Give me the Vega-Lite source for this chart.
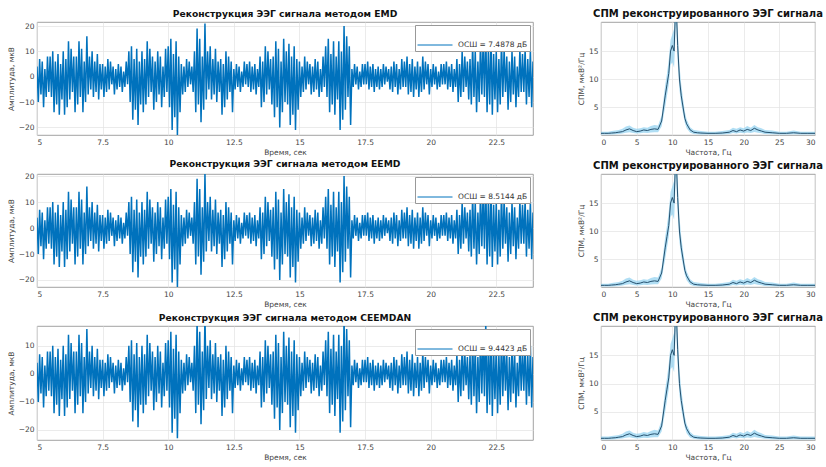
{
"$schema": "https://vega.github.io/schema/vega-lite/v6.json",
"background": "white",
"padding": {"left": 6, "top": 8, "right": 0, "bottom": 0},
"config": {
  "font": "DejaVu Sans",
  "view": {"stroke": "#8c8c8c", "strokeWidth": 0.8},
  "axis": {"labelFontSize": 7.5, "labelColor": "#444", "titleFontSize": 7.5, "titleFontWeight": "normal", "titleColor": "#444", "gridColor": "#e3e3e3", "gridWidth": 0.7, "domain": false, "ticks": false, "labelPadding": 3, "titlePadding": 3},
  "title": {"fontSize": 9.2, "fontWeight": "bold", "offset": 3, "color": "#111"},
  "legend": {"orient": "top-right", "offset": 3, "padding": 2, "strokeColor": "#999", "fillColor": "white", "symbolType": "stroke", "symbolSize": 1225, "symbolStrokeWidth": 1, "labelFontSize": 7.5, "labelColor": "#333", "labelOffset": 5, "cornerRadius": 0}
},
"datasets": {
"eeg": [
{"t":5,"v":4},{"t":5.05,"v":-10},{"t":5.1,"v":7},{"t":5.15,"v":-7},{"t":5.2,"v":6},{"t":5.25,"v":-12},{"t":5.3,"v":3},{"t":5.35,"v":-8},{"t":5.4,"v":8},{"t":5.45,"v":-6},
{"t":5.5,"v":8},{"t":5.55,"v":-8},{"t":5.6,"v":10},{"t":5.65,"v":-14},{"t":5.7,"v":6},{"t":5.75,"v":-11},{"t":5.8,"v":9},{"t":5.85,"v":-15},{"t":5.9,"v":5},{"t":5.95,"v":-9},
{"t":6,"v":10},{"t":6.05,"v":-15},{"t":6.1,"v":7},{"t":6.15,"v":-12},{"t":6.2,"v":14},{"t":6.25,"v":-9},{"t":6.3,"v":11},{"t":6.35,"v":-6},{"t":6.4,"v":8},{"t":6.45,"v":-14},
{"t":6.5,"v":8},{"t":6.55,"v":-11},{"t":6.6,"v":14},{"t":6.65,"v":-8},{"t":6.7,"v":11},{"t":6.75,"v":-14},{"t":6.8,"v":6},{"t":6.85,"v":-10},{"t":6.9,"v":16},{"t":6.95,"v":-7},
{"t":7,"v":8},{"t":7.05,"v":-5},{"t":7.1,"v":10},{"t":7.15,"v":-8},{"t":7.2,"v":6},{"t":7.25,"v":-6},{"t":7.3,"v":9},{"t":7.35,"v":-9},{"t":7.4,"v":5},{"t":7.45,"v":-5},
{"t":7.5,"v":5},{"t":7.55,"v":-8},{"t":7.6,"v":4},{"t":7.65,"v":-6},{"t":7.7,"v":7},{"t":7.75,"v":-5},{"t":7.8,"v":6},{"t":7.85,"v":-3},{"t":7.9,"v":4},{"t":7.95,"v":-7},
{"t":8,"v":3},{"t":8.05,"v":-5},{"t":8.1,"v":5},{"t":8.15,"v":-4},{"t":8.2,"v":4},{"t":8.25,"v":-6},{"t":8.3,"v":2},{"t":8.35,"v":-4},{"t":8.4,"v":6},{"t":8.45,"v":-3},
{"t":8.5,"v":10},{"t":8.55,"v":-10},{"t":8.6,"v":12},{"t":8.65,"v":-17},{"t":8.7,"v":7},{"t":8.75,"v":-13},{"t":8.8,"v":11},{"t":8.85,"v":-19},{"t":8.9,"v":6},{"t":8.95,"v":-11},
{"t":9,"v":10},{"t":9.05,"v":-14},{"t":9.1,"v":7},{"t":9.15,"v":-11},{"t":9.2,"v":14},{"t":9.25,"v":-8},{"t":9.3,"v":11},{"t":9.35,"v":-6},{"t":9.4,"v":8},{"t":9.45,"v":-13},
{"t":9.5,"v":6},{"t":9.55,"v":-10},{"t":9.6,"v":10},{"t":9.65,"v":-7},{"t":9.7,"v":8},{"t":9.75,"v":-12},{"t":9.8,"v":4},{"t":9.85,"v":-8},{"t":9.9,"v":11},{"t":9.95,"v":-6},
{"t":10,"v":12},{"t":10.05,"v":-12},{"t":10.1,"v":15},{"t":10.15,"v":-21},{"t":10.2,"v":9},{"t":10.25,"v":-16},{"t":10.3,"v":14},{"t":10.35,"v":-23},{"t":10.4,"v":8},{"t":10.45,"v":-14},
{"t":10.5,"v":5},{"t":10.55,"v":-7},{"t":10.6,"v":4},{"t":10.65,"v":-6},{"t":10.7,"v":7},{"t":10.75,"v":-4},{"t":10.8,"v":6},{"t":10.85,"v":-3},{"t":10.9,"v":4},{"t":10.95,"v":-6},
{"t":11,"v":10},{"t":11.05,"v":-14},{"t":11.1,"v":19},{"t":11.15,"v":-11},{"t":11.2,"v":15},{"t":11.25,"v":-18},{"t":11.3,"v":8},{"t":11.35,"v":-13},{"t":11.4,"v":21},{"t":11.45,"v":-9},
{"t":11.5,"v":10},{"t":11.55,"v":-5},{"t":11.6,"v":12},{"t":11.65,"v":-9},{"t":11.7,"v":7},{"t":11.75,"v":-7},{"t":11.8,"v":11},{"t":11.85,"v":-10},{"t":11.9,"v":6},{"t":11.95,"v":-6},
{"t":12,"v":7},{"t":12.05,"v":-15},{"t":12.1,"v":5},{"t":12.15,"v":-12},{"t":12.2,"v":10},{"t":12.25,"v":-9},{"t":12.3,"v":8},{"t":12.35,"v":-6},{"t":12.4,"v":6},{"t":12.45,"v":-14},
{"t":12.5,"v":3},{"t":12.55,"v":-5},{"t":12.6,"v":5},{"t":12.65,"v":-4},{"t":12.7,"v":4},{"t":12.75,"v":-6},{"t":12.8,"v":2},{"t":12.85,"v":-4},{"t":12.9,"v":6},{"t":12.95,"v":-3},
{"t":13,"v":5},{"t":13.05,"v":-4},{"t":13.1,"v":6},{"t":13.15,"v":-6},{"t":13.2,"v":4},{"t":13.25,"v":-5},{"t":13.3,"v":5},{"t":13.35,"v":-7},{"t":13.4,"v":3},{"t":13.45,"v":-4},
{"t":13.5,"v":8},{"t":13.55,"v":-12},{"t":13.6,"v":6},{"t":13.65,"v":-10},{"t":13.7,"v":12},{"t":13.75,"v":-7},{"t":13.8,"v":10},{"t":13.85,"v":-5},{"t":13.9,"v":7},{"t":13.95,"v":-11},
{"t":14,"v":8},{"t":14.05,"v":-16},{"t":14.1,"v":14},{"t":14.15,"v":-12},{"t":14.2,"v":11},{"t":14.25,"v":-20},{"t":14.3,"v":6},{"t":14.35,"v":-14},{"t":14.4,"v":15},{"t":14.45,"v":-10},
{"t":14.5,"v":10},{"t":14.55,"v":-11},{"t":14.6,"v":13},{"t":14.65,"v":-19},{"t":14.7,"v":8},{"t":14.75,"v":-15},{"t":14.8,"v":12},{"t":14.85,"v":-21},{"t":14.9,"v":7},{"t":14.95,"v":-13},
{"t":15,"v":6},{"t":15.05,"v":-8},{"t":15.1,"v":4},{"t":15.15,"v":-6},{"t":15.2,"v":8},{"t":15.25,"v":-5},{"t":15.3,"v":6},{"t":15.35,"v":-3},{"t":15.4,"v":5},{"t":15.45,"v":-7},
{"t":15.5,"v":4},{"t":15.55,"v":-6},{"t":15.6,"v":7},{"t":15.65,"v":-5},{"t":15.7,"v":6},{"t":15.75,"v":-8},{"t":15.8,"v":3},{"t":15.85,"v":-6},{"t":15.9,"v":8},{"t":15.95,"v":-4},
{"t":16,"v":12},{"t":16.05,"v":-8},{"t":16.1,"v":15},{"t":16.15,"v":-14},{"t":16.2,"v":9},{"t":16.25,"v":-11},{"t":16.3,"v":14},{"t":16.35,"v":-15},{"t":16.4,"v":8},{"t":16.45,"v":-9},
{"t":16.5,"v":14},{"t":16.55,"v":-21},{"t":16.6,"v":10},{"t":16.65,"v":-17},{"t":16.7,"v":20},{"t":16.75,"v":-13},{"t":16.8,"v":16},{"t":16.85,"v":-8},{"t":16.9,"v":12},{"t":16.95,"v":-19},
{"t":17,"v":3},{"t":17.05,"v":-4},{"t":17.1,"v":5},{"t":17.15,"v":-3},{"t":17.2,"v":4},{"t":17.25,"v":-5},{"t":17.3,"v":2},{"t":17.35,"v":-4},{"t":17.4,"v":5},{"t":17.45,"v":-3},
{"t":17.5,"v":5},{"t":17.55,"v":-3},{"t":17.6,"v":6},{"t":17.65,"v":-5},{"t":17.7,"v":4},{"t":17.75,"v":-4},{"t":17.8,"v":5},{"t":17.85,"v":-6},{"t":17.9,"v":3},{"t":17.95,"v":-4},
{"t":18,"v":4},{"t":18.05,"v":-5},{"t":18.1,"v":3},{"t":18.15,"v":-4},{"t":18.2,"v":5},{"t":18.25,"v":-3},{"t":18.3,"v":4},{"t":18.35,"v":-2},{"t":18.4,"v":3},{"t":18.45,"v":-5},
{"t":18.5,"v":4},{"t":18.55,"v":-6},{"t":18.6,"v":6},{"t":18.65,"v":-4},{"t":18.7,"v":5},{"t":18.75,"v":-7},{"t":18.8,"v":3},{"t":18.85,"v":-5},{"t":18.9,"v":7},{"t":18.95,"v":-4},
{"t":19,"v":6},{"t":19.05,"v":-4},{"t":19.1,"v":8},{"t":19.15,"v":-7},{"t":19.2,"v":5},{"t":19.25,"v":-6},{"t":19.3,"v":7},{"t":19.35,"v":-8},{"t":19.4,"v":4},{"t":19.45,"v":-5},
{"t":19.5,"v":6},{"t":19.55,"v":-8},{"t":19.6,"v":4},{"t":19.65,"v":-6},{"t":19.7,"v":8},{"t":19.75,"v":-5},{"t":19.8,"v":6},{"t":19.85,"v":-3},{"t":19.9,"v":5},{"t":19.95,"v":-7},
{"t":20,"v":3},{"t":20.05,"v":-4},{"t":20.1,"v":5},{"t":20.15,"v":-3},{"t":20.2,"v":4},{"t":20.25,"v":-5},{"t":20.3,"v":2},{"t":20.35,"v":-4},{"t":20.4,"v":5},{"t":20.45,"v":-3},
{"t":20.5,"v":5},{"t":20.55,"v":-3},{"t":20.6,"v":6},{"t":20.65,"v":-5},{"t":20.7,"v":4},{"t":20.75,"v":-4},{"t":20.8,"v":5},{"t":20.85,"v":-6},{"t":20.9,"v":3},{"t":20.95,"v":-4},
{"t":21,"v":7},{"t":21.05,"v":-10},{"t":21.1,"v":5},{"t":21.15,"v":-8},{"t":21.2,"v":10},{"t":21.25,"v":-6},{"t":21.3,"v":8},{"t":21.35,"v":-4},{"t":21.4,"v":6},{"t":21.45,"v":-9},
{"t":21.5,"v":7},{"t":21.55,"v":-11},{"t":21.6,"v":13},{"t":21.65,"v":-8},{"t":21.7,"v":10},{"t":21.75,"v":-14},{"t":21.8,"v":6},{"t":21.85,"v":-10},{"t":21.9,"v":14},{"t":21.95,"v":-7},
{"t":22,"v":14},{"t":22.05,"v":-8},{"t":22.1,"v":18},{"t":22.15,"v":-14},{"t":22.2,"v":11},{"t":22.25,"v":-11},{"t":22.3,"v":16},{"t":22.35,"v":-15},{"t":22.4,"v":9},{"t":22.45,"v":-9},
{"t":22.5,"v":10},{"t":22.55,"v":-14},{"t":22.6,"v":7},{"t":22.65,"v":-11},{"t":22.7,"v":14},{"t":22.75,"v":-8},{"t":22.8,"v":11},{"t":22.85,"v":-6},{"t":22.9,"v":8},{"t":22.95,"v":-13},
{"t":23,"v":6},{"t":23.05,"v":-10},{"t":23.1,"v":10},{"t":23.15,"v":-7},{"t":23.2,"v":8},{"t":23.25,"v":-12},{"t":23.3,"v":4},{"t":23.35,"v":-8},{"t":23.4,"v":11},{"t":23.45,"v":-6},
{"t":23.5,"v":9},{"t":23.55,"v":-6},{"t":23.6,"v":11},{"t":23.65,"v":-11},{"t":23.7,"v":7},{"t":23.75,"v":-8},{"t":23.8,"v":10},{"t":23.85,"v":-12},{"t":23.9,"v":6}
],
"psd": [
{"f":0,"p":0.3,"lo":0.1,"hi":0.6},{"f":0.5,"p":0.3,"lo":0.1,"hi":0.6},{"f":1,"p":0.3,"lo":0.1,"hi":0.6},{"f":1.5,"p":0.35,"lo":0.1,"hi":0.7},{"f":2,"p":0.4,"lo":0.15,"hi":0.8},{"f":2.5,"p":0.5,"lo":0.2,"hi":0.9},{"f":3,"p":0.6,"lo":0.25,"hi":1.1},{"f":3.5,"p":0.9,"lo":0.4,"hi":1.5},{"f":4,"p":1.1,"lo":0.5,"hi":1.7},{"f":4.5,"p":0.8,"lo":0.35,"hi":1.3},
{"f":5,"p":0.6,"lo":0.25,"hi":1.1},{"f":5.5,"p":0.7,"lo":0.3,"hi":1.2},{"f":6,"p":0.9,"lo":0.4,"hi":1.4},{"f":6.5,"p":0.8,"lo":0.35,"hi":1.3},{"f":7,"p":1.0,"lo":0.45,"hi":1.6},{"f":7.5,"p":1.1,"lo":0.5,"hi":1.8},{"f":8,"p":1.0,"lo":0.5,"hi":1.7},{"f":8.5,"p":2.5,"lo":1.5,"hi":3.5},
{"f":9,"p":7,"lo":5,"hi":9},{"f":9.25,"p":9,"lo":7,"hi":11},{"f":9.5,"p":11,"lo":9,"hi":13.5},{"f":9.75,"p":15,"lo":12.5,"hi":17},{"f":10,"p":16,"lo":13,"hi":18},{"f":10.25,"p":15,"lo":12,"hi":19},{"f":10.5,"p":25,"lo":20,"hi":25},{"f":10.75,"p":16,"lo":13,"hi":19},{"f":11,"p":10,"lo":8,"hi":12.5},{"f":11.25,"p":7,"lo":5.5,"hi":9},{"f":11.5,"p":5,"lo":3.8,"hi":6.5},{"f":11.75,"p":3,"lo":2.2,"hi":4.2},{"f":12,"p":2,"lo":1.2,"hi":2.8},
{"f":12.5,"p":0.9,"lo":0.4,"hi":1.4},{"f":13,"p":0.5,"lo":0.2,"hi":0.9},{"f":13.5,"p":0.4,"lo":0.15,"hi":0.8},{"f":14,"p":0.35,"lo":0.1,"hi":0.7},{"f":15,"p":0.3,"lo":0.1,"hi":0.6},{"f":16,"p":0.3,"lo":0.1,"hi":0.6},{"f":17,"p":0.35,"lo":0.1,"hi":0.7},{"f":18,"p":0.5,"lo":0.2,"hi":0.9},{"f":18.5,"p":0.8,"lo":0.35,"hi":1.3},
{"f":19,"p":0.6,"lo":0.25,"hi":1.1},{"f":19.5,"p":0.9,"lo":0.4,"hi":1.4},{"f":20,"p":0.7,"lo":0.3,"hi":1.2},{"f":20.5,"p":1.0,"lo":0.45,"hi":1.6},{"f":21,"p":0.8,"lo":0.35,"hi":1.3},{"f":21.5,"p":1.2,"lo":0.55,"hi":1.8},{"f":22,"p":0.9,"lo":0.4,"hi":1.4},{"f":22.5,"p":0.7,"lo":0.3,"hi":1.2},{"f":23,"p":0.5,"lo":0.2,"hi":0.9},
{"f":24,"p":0.4,"lo":0.15,"hi":0.8},{"f":25,"p":0.3,"lo":0.1,"hi":0.6},{"f":26,"p":0.3,"lo":0.1,"hi":0.6},{"f":27,"p":0.4,"lo":0.15,"hi":0.8},{"f":28,"p":0.3,"lo":0.1,"hi":0.6},{"f":29,"p":0.3,"lo":0.1,"hi":0.6},{"f":30,"p":0.3,"lo":0.1,"hi":0.6}
]
},
"columns": 2,
"bounds": "flush",
"spacing": {"row": 39, "column": 68},
"resolve": {"scale": {"color": "independent"}, "legend": {"color": "independent"}},
"concat": [
{
 "width": 496, "height": 113,
 "title": "Реконструкция ЭЭГ сигнала методом EMD",
 "data": {"name": "eeg"},
 "mark": {"type": "line", "strokeWidth": 1.5, "clip": true},
 "encoding": {
  "x": {"field": "t", "type": "quantitative", "scale": {"domain": [5, 23.9], "nice": false, "zero": false}, "axis": {"title": "Время, сек", "values": [5,7.5,10,12.5,15,17.5,20,22.5], "format": ".3~g"}},
  "y": {"field": "v", "type": "quantitative", "scale": {"domain": [-23, 21.6], "nice": false}, "axis": {"title": "Амплитуда, мкВ", "values": [-20,-10,0,10,20]}},
  "color": {"datum": "ОСШ = 7.4878 дБ", "scale": {"range": ["#0072BD"]}, "legend": {"title": null}}
 }
},
{
 "width": 214, "height": 113,
 "title": {"text": "СПМ реконструированного ЭЭГ сигнала", "fontSize": 10},
 "data": {"name": "psd"},
 "encoding": {"x": {"field": "f", "type": "quantitative", "scale": {"domain": [0, 30], "nice": false}, "axis": {"title": "Частота, Гц", "values": [0,5,10,15,20,25,30]}}},
 "layer": [
  {"mark": {"type": "area", "color": "#8fd0f0", "opacity": 0.7, "clip": true}, "encoding": {"y": {"field": "lo", "type": "quantitative", "scale": {"domain": [0, 20.2], "nice": false}, "axis": {"title": "СПМ, мкВ²/Гц", "values": [5,10,15]}}, "y2": {"field": "hi"}}},
  {"mark": {"type": "line", "color": "#24506e", "strokeWidth": 1, "clip": true}, "encoding": {"y": {"field": "p", "type": "quantitative"}}}
 ]
},
{
 "width": 496, "height": 113,
 "title": "Реконструкция ЭЭГ сигнала методом EEMD",
 "data": {"name": "eeg"},
 "mark": {"type": "line", "strokeWidth": 1.5, "clip": true},
 "encoding": {
  "x": {"field": "t", "type": "quantitative", "scale": {"domain": [5, 23.9], "nice": false, "zero": false}, "axis": {"title": "Время, сек", "values": [5,7.5,10,12.5,15,17.5,20,22.5], "format": ".3~g"}},
  "y": {"field": "v", "type": "quantitative", "scale": {"domain": [-22.7, 20.8], "nice": false}, "axis": {"title": "Амплитуда, мкВ", "values": [-20,-10,0,10,20]}},
  "color": {"datum": "ОСШ = 8.5144 дБ", "scale": {"range": ["#0072BD"]}, "legend": {"title": null}}
 }
},
{
 "width": 214, "height": 113,
 "title": {"text": "СПМ реконструированного ЭЭГ сигнала", "fontSize": 10},
 "data": {"name": "psd"},
 "encoding": {"x": {"field": "f", "type": "quantitative", "scale": {"domain": [0, 30], "nice": false}, "axis": {"title": "Частота, Гц", "values": [0,5,10,15,20,25,30]}}},
 "layer": [
  {"mark": {"type": "area", "color": "#8fd0f0", "opacity": 0.7, "clip": true}, "encoding": {"y": {"field": "lo", "type": "quantitative", "scale": {"domain": [0, 20.2], "nice": false}, "axis": {"title": "СПМ, мкВ²/Гц", "values": [5,10,15]}}, "y2": {"field": "hi"}}},
  {"mark": {"type": "line", "color": "#24506e", "strokeWidth": 1, "clip": true}, "encoding": {"y": {"field": "p", "type": "quantitative"}}}
 ]
},
{
 "width": 496, "height": 114,
 "title": "Реконструкция ЭЭГ сигнала методом CEEMDAN",
 "data": {"name": "eeg"},
 "mark": {"type": "line", "strokeWidth": 1.5, "clip": true},
 "encoding": {
  "x": {"field": "t", "type": "quantitative", "scale": {"domain": [5, 23.9], "nice": false, "zero": false}, "axis": {"title": "Время, сек", "values": [5,7.5,10,12.5,15,17.5,20,22.5], "format": ".3~g"}},
  "y": {"field": "v", "type": "quantitative", "scale": {"domain": [-23.6, 17.1], "nice": false}, "axis": {"title": "Амплитуда, мкВ", "values": [-20,-10,0,10]}},
  "color": {"datum": "ОСШ = 9.4423 дБ", "scale": {"range": ["#0072BD"]}, "legend": {"title": null}}
 }
},
{
 "width": 214, "height": 114,
 "title": {"text": "СПМ реконструированного ЭЭГ сигнала", "fontSize": 10},
 "data": {"name": "psd"},
 "encoding": {"x": {"field": "f", "type": "quantitative", "scale": {"domain": [0, 30], "nice": false}, "axis": {"title": "Частота, Гц", "values": [0,5,10,15,20,25,30]}}},
 "layer": [
  {"mark": {"type": "area", "color": "#8fd0f0", "opacity": 0.7, "clip": true}, "encoding": {"y": {"field": "lo", "type": "quantitative", "scale": {"domain": [0, 20.2], "nice": false}, "axis": {"title": "СПМ, мкВ²/Гц", "values": [5,10,15]}}, "y2": {"field": "hi"}}},
  {"mark": {"type": "line", "color": "#24506e", "strokeWidth": 1, "clip": true}, "encoding": {"y": {"field": "p", "type": "quantitative"}}}
 ]
}
]
}
